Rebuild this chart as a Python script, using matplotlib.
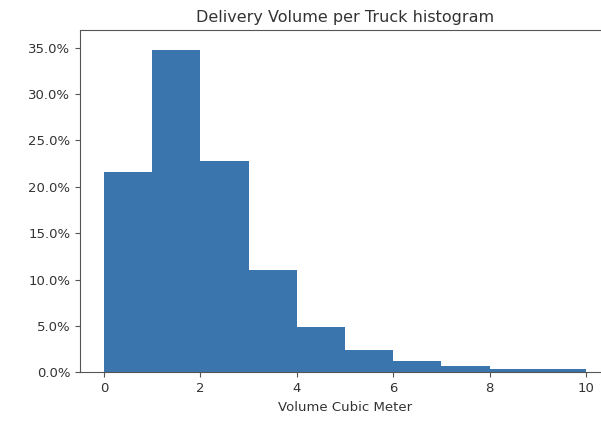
import matplotlib
matplotlib.use("Agg")
import matplotlib.pyplot as plt
from matplotlib.ticker import PercentFormatter, MultipleLocator

# Share of deliveries (%) per volume bin, in cubic meters
bin_edges = [0, 1, 2, 3, 4, 5, 6, 7, 8, 10]
share_pct = [21.6, 34.7, 22.8, 11.0, 4.9, 2.4, 1.2, 0.7, 0.35]


def main():
    fig = plt.figure(figsize=(6.01, 4.24), dpi=100)
    ax = fig.add_axes([0.133, 0.1215, 0.882, 0.808])

    ax.hist(bin_edges[:-1], bins=bin_edges, weights=share_pct, color="#3a75ae")

    ax.set_title("Delivery Volume per Truck histogram", fontsize=11.5, color="#333333")
    ax.set_xlabel("Volume Cubic Meter", fontsize=9.5, color="#333333")
    ax.yaxis.set_major_formatter(PercentFormatter(decimals=1))
    ax.yaxis.set_major_locator(MultipleLocator(5))
    ax.set_ylim(0, 36.9)
    ax.set_xlim(-0.5, 10.5)
    ax.set_xticks([0, 2, 4, 6, 8, 10])
    ax.tick_params(labelsize=9.5, labelcolor="#333333", color="#555555")
    for s in ax.spines.values():
        s.set_color("#555555")

    fig.savefig("out.png", dpi=100)
    plt.close(fig)


if __name__ == "__main__":
    main()
